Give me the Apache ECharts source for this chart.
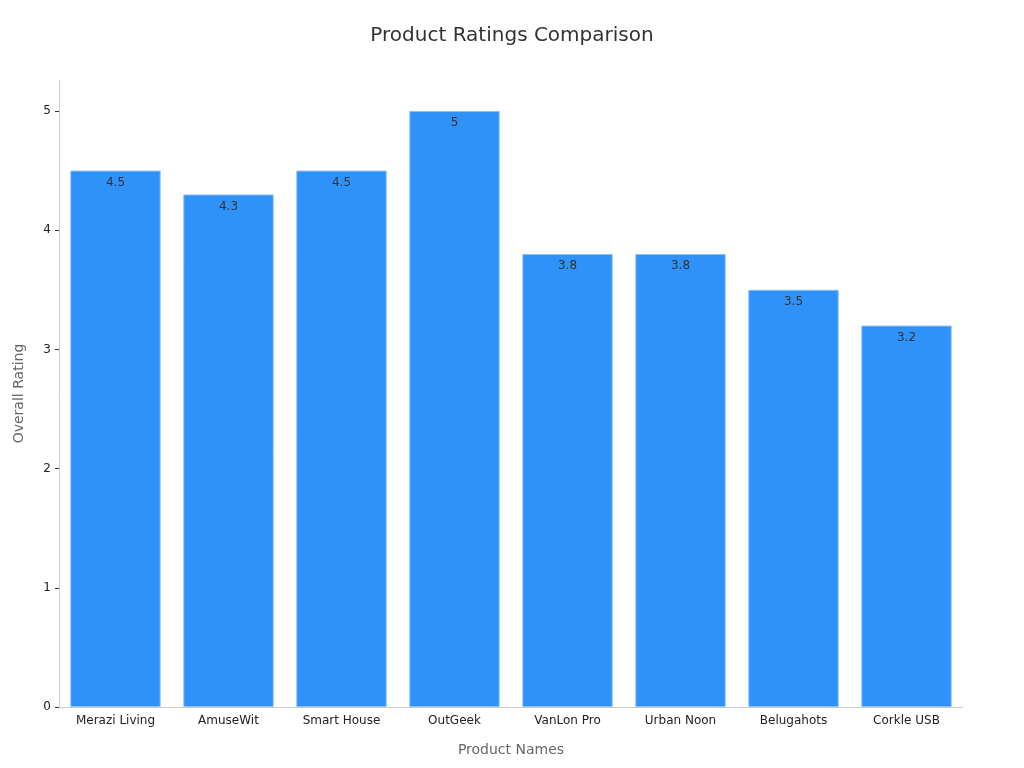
<!DOCTYPE html>
<html>
<head>
<meta charset="utf-8">
<script src="https://cdn.jsdelivr.net/npm/echarts@6/dist/echarts.min.js"></script>
<style>
  html, body { margin: 0; padding: 0; background: #fff; }
  #chart { width: 1024px; height: 768px; }
</style>
</head>
<body>
<div id="chart"></div>
<script>
const products = ['Merazi Living', 'AmuseWit', 'Smart House', 'OutGeek', 'VanLon Pro', 'Urban Noon', 'Belugahots', 'Corkle USB']
const ratings = [4.5, 4.3, 4.5, 5, 3.8, 3.8, 3.5, 3.2]
const yTicks = [0, 1, 2, 3, 4, 5]

var chart = echarts.init(document.getElementById('chart'))
chart.setOption({
  textStyle: { fontFamily: 'DejaVu Sans' },
  title: {
    text: 'Product Ratings Comparison',
    left: 'center',
    top: 21,
    textStyle: { fontSize: 20, fontWeight: 'normal', color: '#333' }
  },
  grid: { left: 59, right: 61, top: 80, bottom: 61 },
  xAxis: {
    type: 'category',
    data: products,
    name: 'Product Names',
    nameLocation: 'middle',
    nameGap: 36,
    nameTextStyle: { fontSize: 14, color: '#666' },
    axisLine: { lineStyle: { color: '#ccc' } },
    axisTick: { show: false },
    axisLabel: { color: '#222', fontSize: 12 }
  },
  yAxis: {
    type: 'value',
    min: 0,
    max: 5.26,
    interval: 1,
    name: 'Overall Rating',
    nameLocation: 'middle',
    nameGap: 33,
    nameTextStyle: { fontSize: 14, color: '#666' },
    axisLine: { show: true, lineStyle: { color: '#ccc' } },
    axisTick: { show: true, length: 4, customValues: yTicks, lineStyle: { color: '#333' } },
    splitLine: { show: false },
    axisLabel: { color: '#222', fontSize: 12, customValues: yTicks }
  },
  series: [{
    type: 'bar',
    data: ratings,
    barCategoryGap: '20%',
    itemStyle: { color: '#2f92f8', borderColor: '#8cc0f5', borderWidth: 1 },
    label: {
      show: true,
      position: 'insideTop',
      color: '#333',
      fontSize: 12,
      offset: [0, 1]
    }
  }]
})
</script>
</body>
</html>
